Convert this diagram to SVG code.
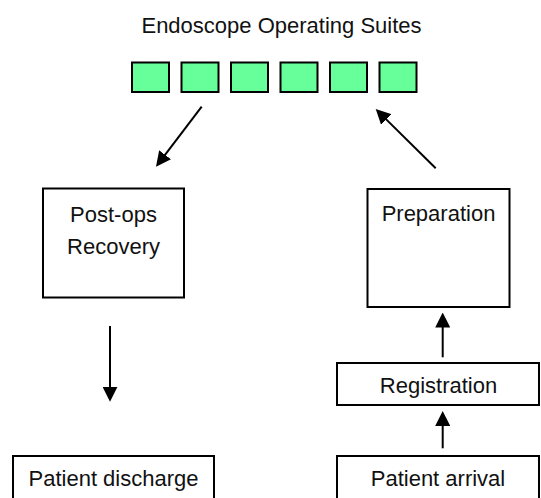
<svg xmlns="http://www.w3.org/2000/svg" width="541" height="498" viewBox="0 0 541 498">
  <style>
    .box { fill: #ffffff; stroke: #000000; stroke-width: 2; }
    .suite { fill: #66ff99; stroke: #000000; stroke-width: 2; }
    .label { font-family: "Liberation Sans", Arial, sans-serif; font-size: 22px; fill: #111111; text-anchor: middle; }
    .conn { stroke: #000000; stroke-width: 2; fill: none; marker-end: url(#head); }
  </style>
  <defs>
    <marker id="head" markerUnits="userSpaceOnUse" markerWidth="15" markerHeight="15" refX="7" refY="7.5" orient="auto">
      <path d="M0,0 L15,7.5 L0,15 z" fill="#000000"/>
    </marker>
  </defs>
  <rect width="541" height="498" fill="#ffffff"/>

  <!-- Operating suites -->
  <g id="suites">
    <text class="label" x="281.5" y="33">Endoscope Operating Suites</text>
    <rect class="suite" x="132" y="62.5" width="37" height="29.5"/>
    <rect class="suite" x="181.5" y="62.5" width="37" height="29.5"/>
    <rect class="suite" x="231" y="62.5" width="37" height="29.5"/>
    <rect class="suite" x="280.5" y="62.5" width="37" height="29.5"/>
    <rect class="suite" x="330" y="62.5" width="37" height="29.5"/>
    <rect class="suite" x="379.5" y="62.5" width="37" height="29.5"/>
  </g>

  <g id="recovery">
    <rect class="box" x="43" y="188.5" width="141" height="109"/>
    <text class="label" x="113.5" y="222">Post-ops</text>
    <text class="label" x="113.5" y="254">Recovery</text>
  </g>

  <g id="preparation">
    <rect class="box" x="367.5" y="189" width="142" height="118"/>
    <text class="label" x="438.5" y="221">Preparation</text>
  </g>

  <g id="registration">
    <rect class="box" x="337" y="363" width="202" height="42"/>
    <text class="label" x="438.5" y="393">Registration</text>
  </g>

  <g id="arrival">
    <rect class="box" x="337" y="456" width="202" height="60"/>
    <text class="label" x="438" y="486">Patient arrival</text>
  </g>

  <g id="discharge">
    <rect class="box" x="13" y="456" width="201" height="60"/>
    <text class="label" x="113.5" y="486">Patient discharge</text>
  </g>

  <!-- Connectors -->
  <g id="connectors">
    <line class="conn" x1="201.7" y1="106.7" x2="160.85" y2="160.33"/>
    <line class="conn" x1="435.7" y1="168.3" x2="381.4" y2="114.6"/>
    <line class="conn" x1="110" y1="326" x2="110" y2="393.7"/>
    <line class="conn" x1="442.7" y1="357.3" x2="442.7" y2="320.5"/>
    <line class="conn" x1="442.7" y1="448.3" x2="442.7" y2="419"/>
  </g>
</svg>
